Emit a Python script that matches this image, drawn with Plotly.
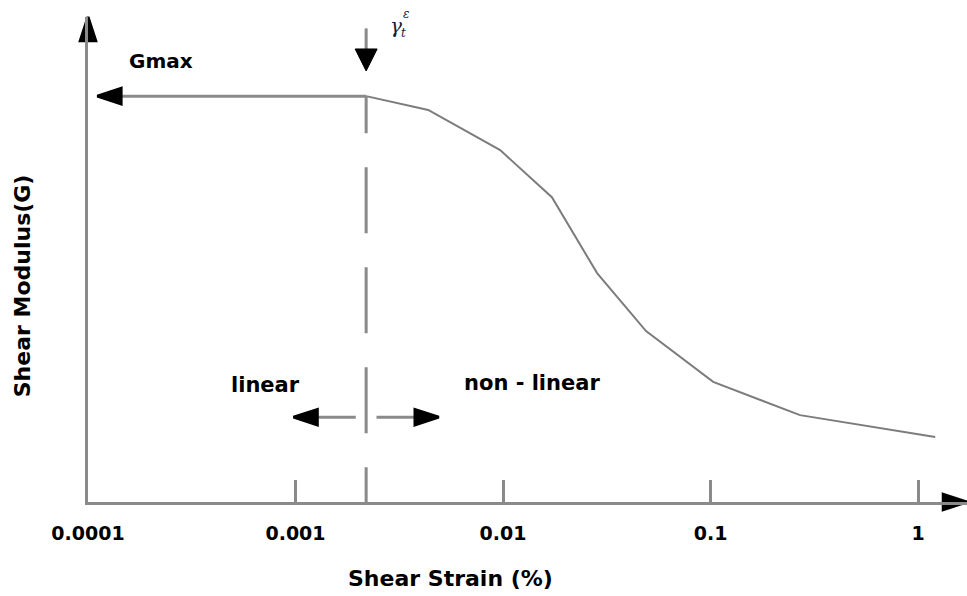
import math
import plotly.graph_objects as go

# Shear modulus degradation with shear strain (log scale)
strain = [0.00219, 0.00436, 0.00969, 0.0172, 0.0284, 0.0489, 0.103, 0.270, 1.21]
modulus = [100, 96.6, 86.7, 75.1, 56.4, 42.1, 29.6, 21.4, 16.0]

G_MAX = 100.0
THRESHOLD = 0.00219            # elastic threshold strain
tick_vals = [0.0001, 0.001, 0.01, 0.1, 1]
tick_text = ["0.0001", "0.001", "0.01", "0.1", "1"]

X_RANGE = [-4.0, 0.236]        # log10 strain
Y_RANGE = [0.0, 119.5]

AXIS_GREY = "#8a8a8a"
CURVE_GREY = "#7c7c7c"
FONT = "DejaVu Sans"

fig = go.Figure()

# modulus-reduction curve
fig.add_trace(go.Scatter(
    x=strain, y=modulus, mode="lines",
    line=dict(color=CURVE_GREY, width=2),
    hoverinfo="skip", showlegend=False))

# Gmax plateau with arrow pointing back to the axis
gmax_tip = 10 ** (X_RANGE[0] + 0.045)
fig.add_trace(go.Scatter(
    x=[gmax_tip, THRESHOLD], y=[G_MAX, G_MAX], mode="lines",
    line=dict(color=AXIS_GREY, width=3),
    hoverinfo="skip", showlegend=False))

# dashed threshold line
fig.add_trace(go.Scatter(
    x=[THRESHOLD, THRESHOLD], y=[G_MAX, 0], mode="lines",
    line=dict(color=AXIS_GREY, width=3,
              dash="37px,34px,66px,34px,66px,34px,66px,34px,66px,34px"),
    hoverinfo="skip", showlegend=False))

# linear / non-linear arrow shafts
lt = math.log10(THRESHOLD)
y_arr = 20.9
fig.add_trace(go.Scatter(
    x=[10 ** (lt - 0.05), 10 ** (lt - 0.30)], y=[y_arr, y_arr], mode="lines",
    line=dict(color=AXIS_GREY, width=3), hoverinfo="skip", showlegend=False))
fig.add_trace(go.Scatter(
    x=[10 ** (lt + 0.05), 10 ** (lt + 0.30)], y=[y_arr, y_arr], mode="lines",
    line=dict(color=AXIS_GREY, width=3), hoverinfo="skip", showlegend=False))

# downward arrow shaft marking the threshold
fig.add_trace(go.Scatter(
    x=[THRESHOLD, THRESHOLD], y=[116.7, 110], mode="lines",
    line=dict(color=AXIS_GREY, width=3), hoverinfo="skip", showlegend=False))

# arrow heads (tip sits on the point)
heads_x = [gmax_tip, 10 ** X_RANGE[0], 10 ** X_RANGE[1],
           10 ** (lt - 0.35), 10 ** (lt + 0.35)]
heads_y = [G_MAX, Y_RANGE[1], 0, y_arr, y_arr]
heads_angle = [-90, 0, 90, -90, 90]
fig.add_trace(go.Scatter(
    x=heads_x, y=heads_y, mode="markers",
    marker=dict(symbol="arrow", size=25, angle=heads_angle, color="black",
                line=dict(color="black", width=3)),
    cliponaxis=False, hoverinfo="skip", showlegend=False))
fig.add_trace(go.Scatter(
    x=[THRESHOLD], y=[106.2], mode="markers",
    marker=dict(symbol="arrow-down", size=22, color="black",
                line=dict(color="black", width=1)),
    cliponaxis=False, hoverinfo="skip", showlegend=False))

def label(text, x, y, size, **kw):
    fig.add_annotation(text=text, x=x, y=y, showarrow=False,
                       font=dict(family=FONT, size=size, color="black"), **kw)

label("<b>Gmax</b>", -3.65, G_MAX, 20, yshift=35)
label("<b>linear</b>", -3.147, 28.8, 21)
label("<b>non - linear</b>", -1.86, 29.3, 21)
fig.add_annotation(text="<i>γ</i>", x=lt, y=G_MAX, xshift=30, yshift=70, showarrow=False,
                   font=dict(family="DejaVu Serif", size=20, color="#1a1a40"))
fig.add_annotation(text="<i>ε</i>", x=lt, y=G_MAX, xshift=40, yshift=82, showarrow=False,
                   font=dict(family="DejaVu Serif", size=12, color="#1a1a40"))
fig.add_annotation(text="<i>t</i>", x=lt, y=G_MAX, xshift=37, yshift=63, showarrow=False,
                   font=dict(family="DejaVu Serif", size=12, color="#1a1a40"))

fig.add_annotation(text="<b>Shear Strain (%)</b>", xref="paper", yref="paper",
                   x=0.412, y=-0.157, xanchor="center", yanchor="middle",
                   showarrow=False,
                   font=dict(family=FONT, size=22, color="black"))
fig.add_annotation(text="<b>Shear Modulus(G)</b>", xref="paper", yref="paper",
                   x=-0.075, y=0.445, xanchor="center", yanchor="middle",
                   showarrow=False, textangle=-90,
                   font=dict(family=FONT, size=22, color="black"))

fig.update_layout(
    width=967, height=596,
    margin=dict(l=88, r=0, t=17, b=94),
    paper_bgcolor="white", plot_bgcolor="white",
    xaxis=dict(type="log", range=X_RANGE, showgrid=False, zeroline=False,
               showline=True, linecolor=AXIS_GREY, linewidth=3,
               ticks="inside", ticklen=22, tickwidth=3, tickcolor=AXIS_GREY,
               tickvals=tick_vals, ticktext=tick_text, ticklabelstandoff=12,
               tickfont=dict(family=FONT, size=19, color="black", weight="bold")),
    yaxis=dict(range=Y_RANGE, showgrid=False, zeroline=False,
               showline=True, linecolor=AXIS_GREY, linewidth=3,
               showticklabels=False, ticks=""),
)

fig.write_html("out.html")
